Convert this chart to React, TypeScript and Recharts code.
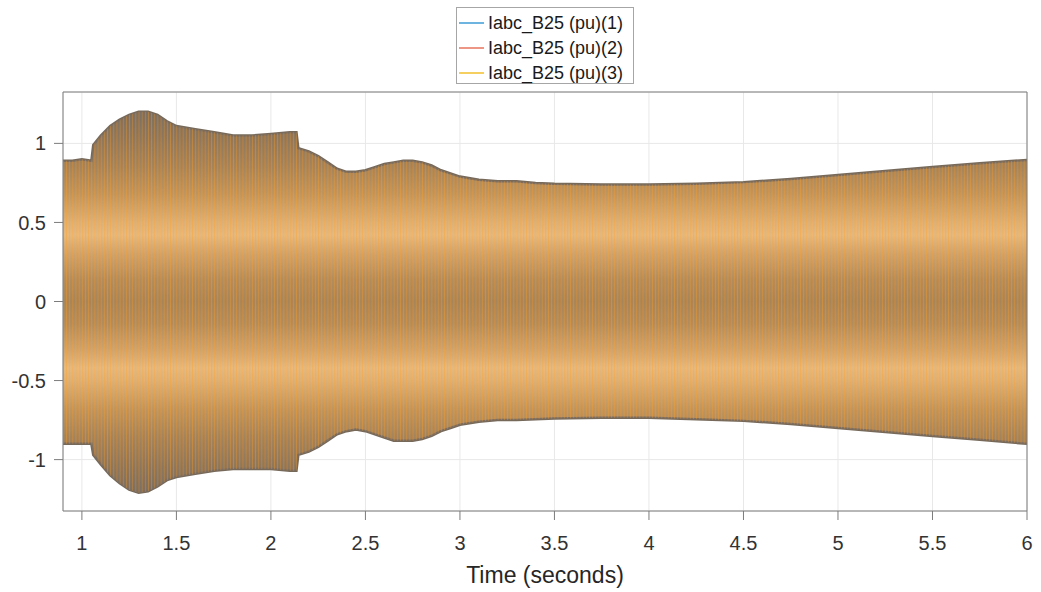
import { ComposedChart, Area, XAxis, YAxis, CartesianGrid } from 'recharts';

// envelope of the three phase currents (pu)
const times = [
  0.9, 0.95, 1.0, 1.05, 1.06, 1.1, 1.15, 1.2, 1.25, 1.3, 1.35, 1.4, 1.45, 1.5, 1.6, 1.7, 1.8, 1.9, 2.0, 2.1,
  2.135, 2.145, 2.2, 2.25, 2.3, 2.35, 2.4, 2.45, 2.5, 2.55, 2.6, 2.65, 2.7, 2.75, 2.8, 2.85, 2.9, 2.95, 3.0,
  3.1, 3.2, 3.3, 3.4, 3.5, 3.75, 4.0, 4.25, 4.5, 4.75, 5.0, 5.25, 5.5, 5.75, 6.0,
];
const upper = [
  0.89, 0.89, 0.9, 0.89, 0.99, 1.05, 1.11, 1.15, 1.18, 1.2, 1.2, 1.18, 1.14, 1.11, 1.09, 1.07, 1.05, 1.05, 1.06, 1.07,
  1.07, 0.97, 0.95, 0.92, 0.88, 0.84, 0.82, 0.82, 0.83, 0.85, 0.87, 0.88, 0.89, 0.89, 0.88, 0.86, 0.83, 0.81, 0.79,
  0.77, 0.76, 0.76, 0.75, 0.745, 0.74, 0.74, 0.745, 0.755, 0.775, 0.8, 0.825, 0.85, 0.875, 0.895,
];
const lower = [
  -0.9, -0.9, -0.9, -0.9, -0.97, -1.03, -1.1, -1.15, -1.19, -1.21, -1.2, -1.17, -1.13, -1.11, -1.09, -1.07, -1.06, -1.06, -1.06, -1.07,
  -1.07, -0.97, -0.95, -0.92, -0.88, -0.84, -0.82, -0.81, -0.82, -0.84, -0.86, -0.88, -0.88, -0.88, -0.87, -0.85, -0.82, -0.8, -0.78,
  -0.76, -0.75, -0.75, -0.745, -0.74, -0.735, -0.735, -0.745, -0.755, -0.775, -0.8, -0.825, -0.85, -0.875, -0.9,
];

const seriesNames = ['Iabc_B25 (pu)(1)', 'Iabc_B25 (pu)(2)', 'Iabc_B25 (pu)(3)'];
const seriesColors = ['#3d9bd6', '#e8735c', '#f2bf2a'];

const xTicks = [1, 1.5, 2, 2.5, 3, 3.5, 4, 4.5, 5, 5.5, 6];
const yTicks = [-1, -0.5, 0, 0.5, 1];

const data = times.map((t, i) => ({ t, band: [lower[i], upper[i]] }));

const Y_MAX = 1.325;
const AXIS = '#7c7c7c';
const GRID = '#e8e8e8';
const FONT = '"Liberation Sans", Arial, sans-serif';

// shading of the overlapped sine traces (value -> colour)
const shade: [number, string][] = [
  [1.22, '#75695a'],
  [1.05, '#8c7352'],
  [0.85, '#a98350'],
  [0.68, '#c89754'],
  [0.5, '#ebb871'],
  [0.42, '#f4c27c'],
  [0.3, '#d9a765'],
  [0.14, '#b98d52'],
  [0, '#ad844d'],
  [-0.14, '#b98d52'],
  [-0.3, '#d9a765'],
  [-0.42, '#f4c27c'],
  [-0.5, '#ebb871'],
  [-0.68, '#c89754'],
  [-0.85, '#a98350'],
  [-1.05, '#8c7352'],
  [-1.22, '#75695a'],
];

function LegendBox() {
  return (
    <div
      style={{
        position: 'absolute',
        left: 456,
        top: 7,
        width: 178,
        height: 77,
        background: '#fff',
        border: '1px solid #a6a6a6',
        fontFamily: FONT,
        fontSize: 18,
        color: '#1a1a1a',
        boxSizing: 'border-box',
      }}
    >
      {seriesNames.map((name, i) => (
        <div key={name} style={{ position: 'absolute', left: 2, top: 3 + i * 25, height: 24, display: 'flex', alignItems: 'center' }}>
          <svg width={25} height={4} style={{ marginRight: 4 }}>
            <line x1={0} y1={2} x2={25} y2={2} stroke={seriesColors[i]} strokeWidth={1.5} />
          </svg>
          <span>{name}</span>
        </div>
      ))}
    </div>
  );
}

export default function App() {
  const tickStyle = { fontSize: 20, fill: '#333', fontFamily: FONT };
  return (
    <div style={{ position: 'absolute', left: 0, top: 0, width: 1041, height: 592, background: '#fff' }}>
      <ComposedChart width={1041} height={592} data={data} margin={{ top: 0, right: 0, bottom: 0, left: 0 }}>
        <defs>
          <linearGradient id="envShade" gradientUnits="userSpaceOnUse" x1="0" y1="92" x2="0" y2="511">
            {shade.map(([v, c]) => (
              <stop key={v} offset={(Y_MAX - v) / (2 * Y_MAX)} stopColor={c} />
            ))}
          </linearGradient>
          <pattern id="traces" width="3.15" height="8" patternUnits="userSpaceOnUse">
            <rect x="0" y="0" width="0.9" height="8" fill="#f29a2e" opacity="0.45" />
            <rect x="1.3" y="0" width="0.6" height="8" fill="#5d8fb3" opacity="0.3" />
            <rect x="2.2" y="0" width="0.6" height="8" fill="#d9785a" opacity="0.25" />
          </pattern>
        </defs>
        <CartesianGrid stroke={GRID} strokeWidth={1} />
        <XAxis
          dataKey="t"
          type="number"
          domain={[0.9, 6]}
          ticks={xTicks}
          allowDataOverflow
          height={81}
          stroke={AXIS}
          tickSize={9}
          tickMargin={16}
          tick={tickStyle}
          label={{ value: 'Time (seconds)', position: 'insideBottom', offset: 9, fontSize: 23, fill: '#262626', fontFamily: FONT }}
        />
        <XAxis
          xAxisId="top"
          dataKey="t"
          type="number"
          orientation="top"
          domain={[0.9, 6]}
          ticks={xTicks}
          height={92}
          stroke={AXIS}
          tickSize={9}
          tick={false}
        />
        <YAxis
          type="number"
          domain={[-Y_MAX, Y_MAX]}
          ticks={yTicks}
          width={63}
          stroke={AXIS}
          tickSize={9}
          tickMargin={8}
          tick={tickStyle}
        />
        <YAxis
          yAxisId="right"
          type="number"
          orientation="right"
          domain={[-Y_MAX, Y_MAX]}
          ticks={yTicks}
          width={14}
          stroke={AXIS}
          tickSize={9}
          tick={false}
        />
        <Area
          dataKey="band"
          type="linear"
          fill="url(#envShade)"
          fillOpacity={1}
          stroke="#76695a"
          strokeWidth={2.5}
          isAnimationActive={false}
        />
        <Area
          dataKey="band"
          type="linear"
          fill="url(#traces)"
          fillOpacity={1}
          stroke="none"
          isAnimationActive={false}
        />
      </ComposedChart>
      <LegendBox />
    </div>
  );
}
